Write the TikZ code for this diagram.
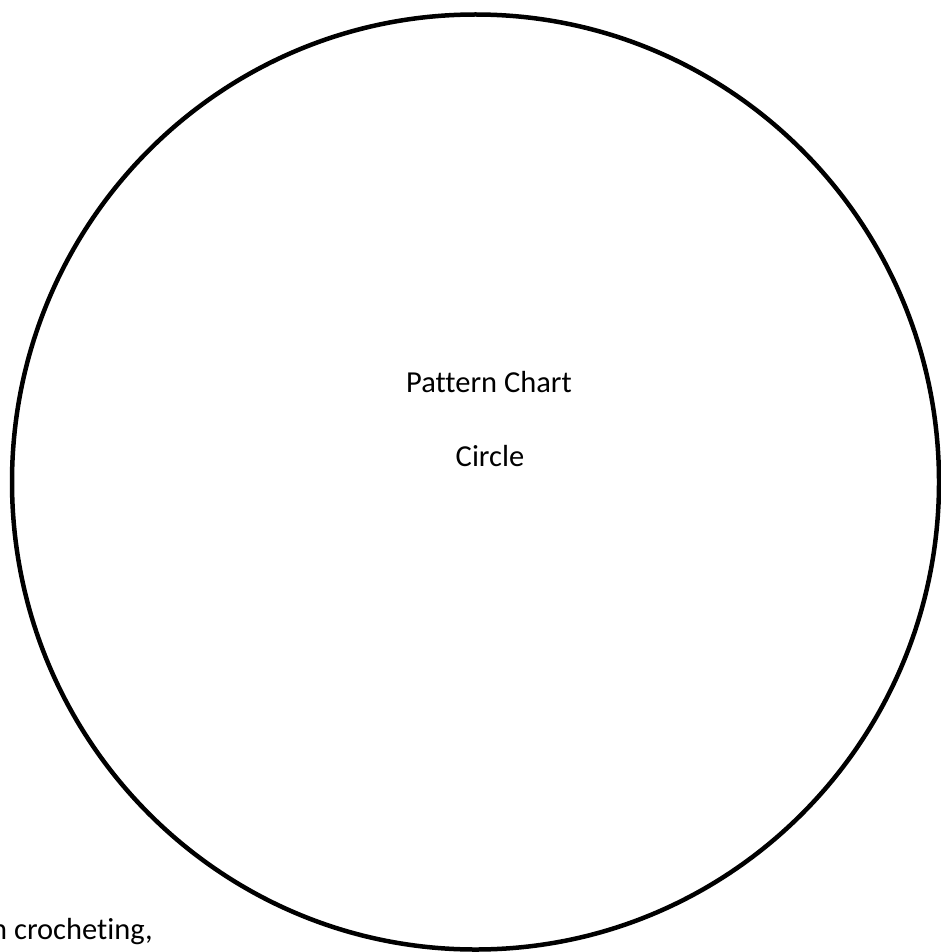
\documentclass[tikz,border=0pt]{standalone}
\usepackage{fontspec}
\setmainfont{Carlito}[Ligatures={NoCommon,NoContextual}]
\begin{document}
\begin{tikzpicture}[x=1pt,y=-1pt,
  lbl/.style={inner sep=0pt,font=\fontsize{30.5}{36}\selectfont}]
\useasboundingbox (0,0) rectangle (941,952);
\fill[white] (0,0) rectangle (941,952);
\draw[line width=4.5pt] (475.5,482) ellipse [x radius=463.5, y radius=467.5];
\node[lbl,anchor=base] (title) at (489,392) {Pattern Chart};
\node[lbl,anchor=base] (sub) at (490,466) {Circle};
\node[lbl,anchor=base west] (foot) at (-9,939) {n crocheting,};
\end{tikzpicture}
\end{document}
